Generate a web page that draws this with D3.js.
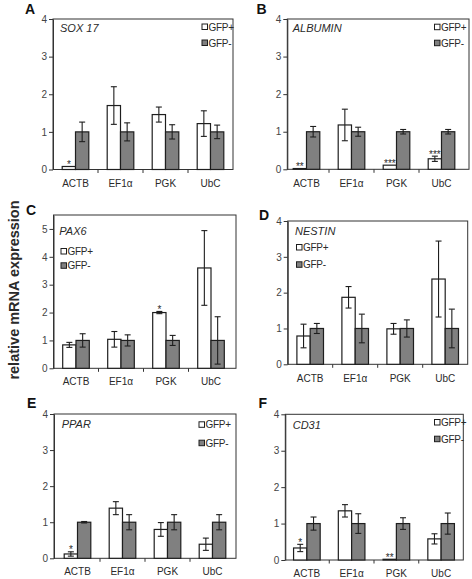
<!DOCTYPE html>
<html>
<head>
<meta charset="utf-8">
<script src="https://cdn.jsdelivr.net/npm/d3@7"></script>
<style>
  html, body { margin: 0; padding: 0; background: #fff; }
  svg { display: block; font-family: "Liberation Sans", Arial, sans-serif; }
</style>
</head>
<body>
<svg id="chart" width="472" height="579"></svg>
<script>
// ---------------- DATA ----------------
const categories = ["ACTB", "EF1\u03b1", "PGK", "UbC"];
const seriesNames = ["GFP+", "GFP-"];
const panelLetters = ["A", "B", "C", "D", "E", "F"];
const geneNames = ["SOX 17", "ALBUMIN", "PAX6", "NESTIN", "PPAR", "CD31"];
const yMaxes = [4, 4, 5.5, 4, 4, 4];
const yAxisLabel = "relative mRNA expression";

// GFP+ means and errors (per panel, per category)
const gfpPosMeans = [
  [0.08, 1.70, 1.46, 1.22],
  [0.02, 1.18, 0.11, 0.28],
  [0.84, 1.04, 2.00, 3.60],
  [0.79, 1.87, 0.99, 2.38],
  [0.12, 1.39, 0.80, 0.39],
  [0.33, 1.35, 0.02, 0.58]
];
const gfpPosErrors = [
  [0.00, 0.50, 0.20, 0.34],
  [0.00, 0.42, 0.00, 0.07],
  [0.09, 0.28, 0.04, 1.34],
  [0.33, 0.30, 0.15, 1.06],
  [0.06, 0.18, 0.19, 0.17],
  [0.10, 0.17, 0.00, 0.14]
];
// GFP- means and errors
const gfpNegMeans = [
  [1, 1, 1, 1],
  [1, 1, 1, 1],
  [1, 1, 1, 1],
  [1, 1, 1, 1],
  [1, 1, 1, 1],
  [1, 1, 1, 1]
];
const gfpNegErrors = [
  [0.26, 0.24, 0.19, 0.18],
  [0.14, 0.12, 0.06, 0.06],
  [0.24, 0.20, 0.18, 0.85],
  [0.14, 0.40, 0.24, 0.54],
  [0.02, 0.21, 0.21, 0.21],
  [0.18, 0.27, 0.16, 0.29]
];
// significance marks above GFP+ bars
const significance = [
  ["*", "", "", ""],
  ["**", "", "***", "***"],
  ["", "", "*", ""],
  ["", "", "", ""],
  ["*", "", "", ""],
  ["*", "", "**", ""]
];

// ---------------- LAYOUT ----------------
const layout = [
  {fx0: 53,    fx1: 233,   fy0: 19,    fy1: 169.5, bx0: 53,    bx1: 233,   letter: [25, 14],    title: [60, 32.3],    leg: [202, 30.5, 46.5],  xlab: 187},
  {fx0: 287.3, fx1: 469,   fy0: 19,    fy1: 169.3, bx0: 284,   bx1: 464,   letter: [256.5, 14], title: [292.7, 31.7], leg: [434.5, 30.7, 46.7], xlab: 186.7},
  {fx0: 53.5,  fx1: 236,   fy0: 215,   fy1: 368.3, bx0: 53.5,  bx1: 233.5, letter: [26, 215],   title: [59.3, 235],   leg: [61, 255, 269.3],   xlab: 385},
  {fx0: 287.7, fx1: 467.7, fy0: 221,   fy1: 364.3, bx0: 287.7, bx1: 467.7, letter: [259, 220],  title: [295, 235],    leg: [296.5, 251, 268.3],xlab: 381.7},
  {fx0: 54,    fx1: 236,   fy0: 414,   fy1: 558.3, bx0: 55,    bx1: 235,   letter: [27, 408],   title: [61.7, 427.7], leg: [199, 428.3, 446.7],xlab: 575},
  {fx0: 285.3, fx1: 463.3, fy0: 414.3, fy1: 560,   bx0: 284.5, bx1: 463.5, letter: [258.5, 408],title: [292.7, 429],  leg: [434.5, 426, 442.7],xlab: 576.7}
];

const barFill = ["#ffffff", "#808080"];
const ink = "#1e1e1e";
const textColor = "#2a2a2a";

const svg = d3.select("#chart");

// Global y label
svg.append("text")
  .attr("transform", "translate(19,290) rotate(-90)")
  .attr("text-anchor", "middle")
  .attr("font-size", 14.5)
  .attr("font-weight", "bold")
  .attr("fill", textColor)
  .text(yAxisLabel);

panelLetters.forEach((letter, p) => {
  const L = layout[p];
  const g = svg.append("g");

  const y = d3.scaleLinear().domain([0, yMaxes[p]]).range([L.fy1, L.fy0]);
  const x0 = d3.scaleBand().domain(categories).range([L.bx0, L.bx1]);
  const pairW = 26.6;
  const x1 = d3.scaleBand().domain(seriesNames).range([0, pairW]);

  // panel letter
  g.append("text")
    .attr("x", L.letter[0]).attr("y", L.letter[1])
    .attr("font-size", 14).attr("font-weight", "bold").attr("fill", "#111")
    .text(letter);

  // frame
  g.append("rect")
    .attr("x", L.fx0).attr("y", L.fy0)
    .attr("width", L.fx1 - L.fx0).attr("height", L.fy1 - L.fy0)
    .attr("fill", "none").attr("stroke", "#333").attr("stroke-width", 1);

  // y axis
  const yTicks = d3.range(0, Math.floor(yMaxes[p]) + 1);
  const yAxis = d3.axisLeft(y).tickValues(yTicks).tickSize(4).tickSizeOuter(0).tickFormat(d3.format("d"));
  const ya = g.append("g").attr("transform", `translate(${L.fx0},0)`).call(yAxis);
  ya.select(".domain").attr("stroke", "#333");
  ya.selectAll(".tick line").attr("stroke", "#333");
  ya.selectAll(".tick text").attr("font-size", 10).attr("fill", "#444").attr("x", -6)
    .attr("font-family", "Liberation Sans, Arial, sans-serif");

  // x axis: ticks at group boundaries, labels at centers
  const bounds = categories.slice(1).map(c => x0(c));
  g.selectAll(".xb").data(bounds).enter().append("line")
    .attr("x1", d => d).attr("x2", d => d)
    .attr("y1", L.fy1).attr("y2", L.fy1 + 3.5)
    .attr("stroke", "#333").attr("stroke-width", 1);
  g.selectAll(".xl").data(categories).enter().append("text")
    .attr("x", d => x0(d) + x0.bandwidth() / 2)
    .attr("y", L.xlab)
    .attr("text-anchor", "middle")
    .attr("font-size", 10).attr("fill", textColor)
    .text(d => d);

  // bars
  const rows = [];
  categories.forEach((c, i) => {
    rows.push({cat: c, s: 0, v: gfpPosMeans[p][i], e: gfpPosErrors[p][i], sig: significance[p][i]});
    rows.push({cat: c, s: 1, v: gfpNegMeans[p][i], e: gfpNegErrors[p][i], sig: ""});
  });
  const bx = d => x0(d.cat) + x0.bandwidth() / 2 - pairW / 2 + x1(seriesNames[d.s]);

  g.selectAll(".bar").data(rows).enter().append("rect")
    .attr("x", bx)
    .attr("y", d => y(d.v))
    .attr("width", x1.bandwidth())
    .attr("height", d => y(0) - y(d.v))
    .attr("fill", d => barFill[d.s])
    .attr("stroke", ink).attr("stroke-width", 1.2);

  // error bars
  const eb = rows.filter(d => d.e > 0);
  const cx = d => bx(d) + x1.bandwidth() / 2;
  g.selectAll(".ev").data(eb).enter().append("line")
    .attr("x1", cx).attr("x2", cx)
    .attr("y1", d => y(d.v + d.e)).attr("y2", d => y(Math.max(0, d.v - d.e)))
    .attr("stroke", ink).attr("stroke-width", 1.1);
  ["top", "bot"].forEach(k => {
    g.selectAll(".ec" + k).data(eb).enter().append("line")
      .attr("x1", d => cx(d) - 3).attr("x2", d => cx(d) + 3)
      .attr("y1", d => k === "top" ? y(d.v + d.e) : y(Math.max(0, d.v - d.e)))
      .attr("y2", d => k === "top" ? y(d.v + d.e) : y(Math.max(0, d.v - d.e)))
      .attr("stroke", ink).attr("stroke-width", 1.1);
  });

  // significance
  g.selectAll(".sig").data(rows.filter(d => d.sig)).enter().append("text")
    .attr("x", cx)
    .attr("y", d => y(d.v + d.e) + 1.5)
    .attr("text-anchor", "middle")
    .attr("font-size", 10).attr("fill", textColor)
    .text(d => d.sig);

  // gene title
  g.append("text")
    .attr("x", L.title[0]).attr("y", L.title[1])
    .attr("font-size", 11).attr("font-style", "italic").attr("fill", textColor)
    .text(geneNames[p]);

  // legend
  seriesNames.forEach((s, i) => {
    const by = L.leg[1 + i];
    g.append("rect")
      .attr("x", L.leg[0]).attr("y", by - 6.5)
      .attr("width", 5.5).attr("height", 5.5)
      .attr("fill", barFill[i]).attr("stroke", ink).attr("stroke-width", 1);
    g.append("text")
      .attr("x", L.leg[0] + 6.5).attr("y", by)
      .attr("font-size", 10).attr("fill", textColor)
      .attr("letter-spacing", -0.3)
      .text(s);
  });
});
</script>
</body>
</html>
